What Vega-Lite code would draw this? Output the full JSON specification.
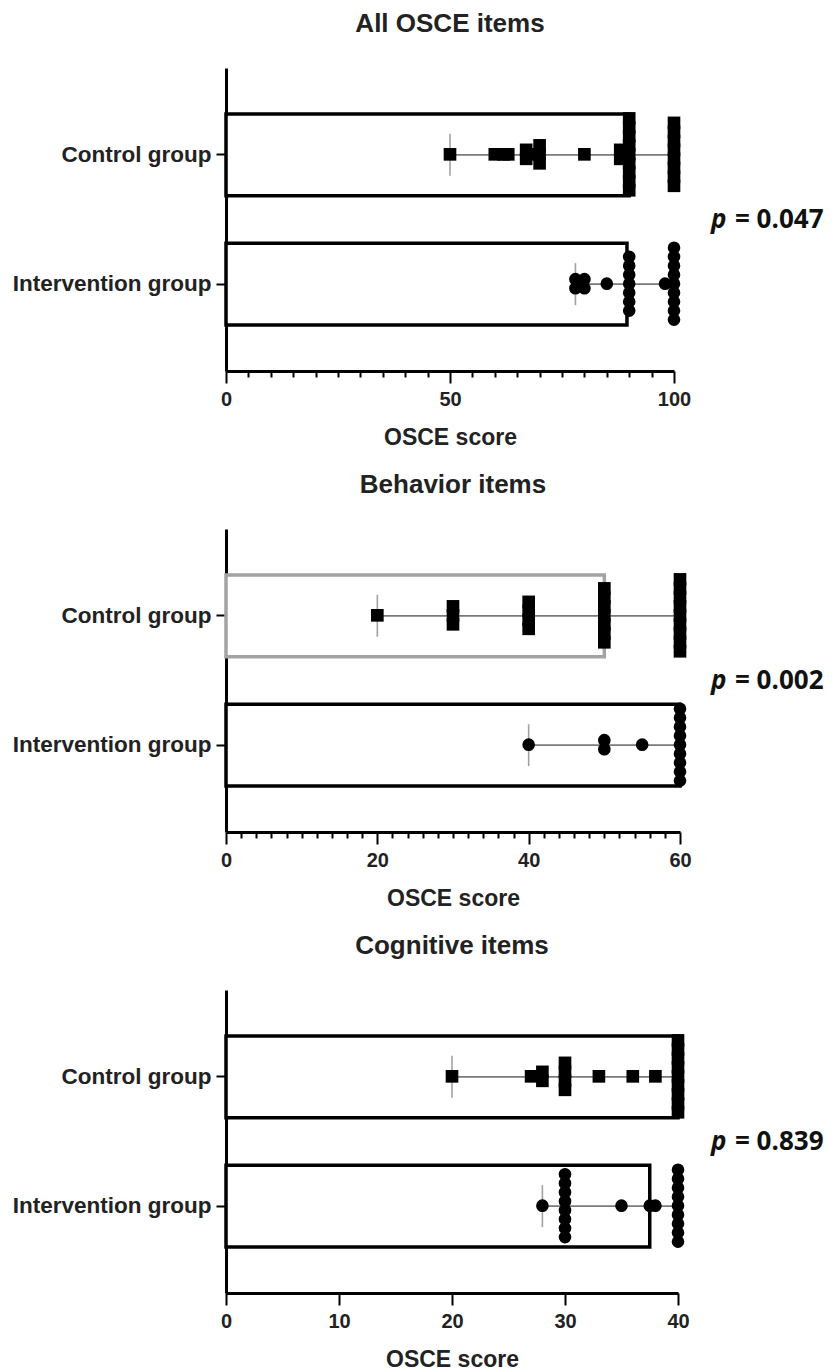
{
  "$schema": "https://vega.github.io/schema/vega-lite/v6.json",
  "padding": {"left": 12, "top": 11, "right": 5, "bottom": 5},
  "background": "white",
  "config": {
    "view": {"stroke": null},
    "font": "Liberation Sans",
    "axis": {"domainColor": "black", "domainWidth": 3, "tickColor": "black", "tickWidth": 2, "labelFont": "Liberation Sans", "labelFontWeight": "bold", "labelColor": "#222222", "titleFont": "Liberation Sans", "titleFontWeight": "bold", "titleColor": "#222222", "grid": false},
    "axisX": {"labelFontSize": 20, "titleFontSize": 23, "labelPadding": 6, "titlePadding": 17, "labelFlush": false, "labelOverlap": false, "labelBound": false, "tickSize": 12},
    "axisY": {"labelFontSize": 22.5, "tickSize": 10, "labelPadding": 5, "labelLimit": 400},
    "title": {"fontSize": 26, "fontWeight": "bold", "font": "Liberation Sans", "color": "#222222", "offset": 31, "anchor": "middle"},
    "text": {"font": "Open Sans", "fontWeight": "bold", "fontSize": 26, "color": "#111111"}
  },
  "datasets": {
    "s1": [
      {"group": "Control group", "median": 90, "min": 50, "max": 100},
      {"group": "Intervention group", "median": 89.5, "min": 78, "max": 100}
    ],
    "p1": [
      {"group": "Control group", "score": 50}, {"group": "Control group", "score": 60}, {"group": "Control group", "score": 62}, {"group": "Control group", "score": 63},
      {"group": "Control group", "score": 67}, {"group": "Control group", "score": 67}, {"group": "Control group", "score": 68},
      {"group": "Control group", "score": 70}, {"group": "Control group", "score": 70}, {"group": "Control group", "score": 70},
      {"group": "Control group", "score": 80}, {"group": "Control group", "score": 88}, {"group": "Control group", "score": 88},
      {"group": "Control group", "score": 90}, {"group": "Control group", "score": 90}, {"group": "Control group", "score": 90}, {"group": "Control group", "score": 90},
      {"group": "Control group", "score": 90}, {"group": "Control group", "score": 90}, {"group": "Control group", "score": 90}, {"group": "Control group", "score": 90},
      {"group": "Control group", "score": 90},
      {"group": "Control group", "score": 100}, {"group": "Control group", "score": 100}, {"group": "Control group", "score": 100}, {"group": "Control group", "score": 100},
      {"group": "Control group", "score": 100}, {"group": "Control group", "score": 100}, {"group": "Control group", "score": 100}, {"group": "Control group", "score": 100},
      {"group": "Intervention group", "score": 78}, {"group": "Intervention group", "score": 78}, {"group": "Intervention group", "score": 80}, {"group": "Intervention group", "score": 80},
      {"group": "Intervention group", "score": 85},
      {"group": "Intervention group", "score": 90}, {"group": "Intervention group", "score": 90}, {"group": "Intervention group", "score": 90}, {"group": "Intervention group", "score": 90},
      {"group": "Intervention group", "score": 90}, {"group": "Intervention group", "score": 90}, {"group": "Intervention group", "score": 90},
      {"group": "Intervention group", "score": 98},
      {"group": "Intervention group", "score": 100}, {"group": "Intervention group", "score": 100}, {"group": "Intervention group", "score": 100}, {"group": "Intervention group", "score": 100},
      {"group": "Intervention group", "score": 100}, {"group": "Intervention group", "score": 100}, {"group": "Intervention group", "score": 100}, {"group": "Intervention group", "score": 100},
      {"group": "Intervention group", "score": 100}
    ],
    "s2": [
      {"group": "Control group", "median": 50, "min": 20, "max": 60},
      {"group": "Intervention group", "median": 60, "min": 40, "max": 60}
    ],
    "p2": [
      {"group": "Control group", "score": 20},
      {"group": "Control group", "score": 30}, {"group": "Control group", "score": 30}, {"group": "Control group", "score": 30},
      {"group": "Control group", "score": 40}, {"group": "Control group", "score": 40}, {"group": "Control group", "score": 40}, {"group": "Control group", "score": 40},
      {"group": "Control group", "score": 50}, {"group": "Control group", "score": 50}, {"group": "Control group", "score": 50}, {"group": "Control group", "score": 50},
      {"group": "Control group", "score": 50}, {"group": "Control group", "score": 50}, {"group": "Control group", "score": 50},
      {"group": "Control group", "score": 60}, {"group": "Control group", "score": 60}, {"group": "Control group", "score": 60}, {"group": "Control group", "score": 60},
      {"group": "Control group", "score": 60}, {"group": "Control group", "score": 60}, {"group": "Control group", "score": 60}, {"group": "Control group", "score": 60},
      {"group": "Control group", "score": 60},
      {"group": "Intervention group", "score": 40},
      {"group": "Intervention group", "score": 50}, {"group": "Intervention group", "score": 50},
      {"group": "Intervention group", "score": 55},
      {"group": "Intervention group", "score": 60}, {"group": "Intervention group", "score": 60}, {"group": "Intervention group", "score": 60}, {"group": "Intervention group", "score": 60},
      {"group": "Intervention group", "score": 60}, {"group": "Intervention group", "score": 60}, {"group": "Intervention group", "score": 60}, {"group": "Intervention group", "score": 60},
      {"group": "Intervention group", "score": 60}
    ],
    "s3": [
      {"group": "Control group", "median": 40, "min": 20, "max": 40},
      {"group": "Intervention group", "median": 37.5, "min": 28, "max": 40}
    ],
    "p3": [
      {"group": "Control group", "score": 20}, {"group": "Control group", "score": 27}, {"group": "Control group", "score": 28}, {"group": "Control group", "score": 28},
      {"group": "Control group", "score": 30}, {"group": "Control group", "score": 30}, {"group": "Control group", "score": 30}, {"group": "Control group", "score": 30},
      {"group": "Control group", "score": 33}, {"group": "Control group", "score": 36}, {"group": "Control group", "score": 38},
      {"group": "Control group", "score": 40}, {"group": "Control group", "score": 40}, {"group": "Control group", "score": 40}, {"group": "Control group", "score": 40},
      {"group": "Control group", "score": 40}, {"group": "Control group", "score": 40}, {"group": "Control group", "score": 40}, {"group": "Control group", "score": 40},
      {"group": "Control group", "score": 40},
      {"group": "Intervention group", "score": 28},
      {"group": "Intervention group", "score": 30}, {"group": "Intervention group", "score": 30}, {"group": "Intervention group", "score": 30}, {"group": "Intervention group", "score": 30},
      {"group": "Intervention group", "score": 30}, {"group": "Intervention group", "score": 30}, {"group": "Intervention group", "score": 30}, {"group": "Intervention group", "score": 30},
      {"group": "Intervention group", "score": 35}, {"group": "Intervention group", "score": 37.5}, {"group": "Intervention group", "score": 38},
      {"group": "Intervention group", "score": 40}, {"group": "Intervention group", "score": 40}, {"group": "Intervention group", "score": 40}, {"group": "Intervention group", "score": 40},
      {"group": "Intervention group", "score": 40}, {"group": "Intervention group", "score": 40}, {"group": "Intervention group", "score": 40}, {"group": "Intervention group", "score": 40},
      {"group": "Intervention group", "score": 40}
    ]
  },
  "columns": 2,
  "bounds": "flush",
  "spacing": {"row": 158, "column": 18},
  "concat": [
    {
      "width": 448, "height": 303,
      "title": "All OSCE  items",
      "resolve": {"scale": {"yOffset": "independent"}, "axis": {"x": "independent"}},
      "layer": [
        {
          "data": {"name": "s1"},
          "mark": {"type": "bar", "fill": "white", "stroke": "black", "strokeWidth": 3.5},
          "encoding": {
            "y": {"field": "group", "type": "nominal", "sort": ["Control group", "Intervention group"], "scale": {"paddingInner": 0.367, "paddingOuter": 0.355}, "axis": {"title": null}},
            "x": {"field": "median", "type": "quantitative", "scale": {"domain": [0, 100], "nice": false},
                  "axis": {"title": "OSCE score", "orient": "bottom", "values": [0, 50, 100]}}
          }
        },
        {
          "data": {"name": "s1"},
          "mark": {"type": "rule", "color": "#7a7a7a", "strokeWidth": 1.6},
          "encoding": {
            "y": {"field": "group", "type": "nominal", "sort": ["Control group", "Intervention group"]},
            "x": {"field": "min", "type": "quantitative", "scale": {"domain": [0, 100], "nice": false},
                  "axis": {"orient": "bottom", "title": null, "labels": false, "domain": false, "tickSize": 6, "values": [5,10,15,20,25,30,35,40,45,55,60,65,70,75,80,85,90,95]}},
            "x2": {"field": "max"}
          }
        },
        {
          "data": {"name": "s1"},
          "mark": {"type": "tick", "color": "#7a7a7a", "thickness": 1.6, "size": 42},
          "encoding": {
            "y": {"field": "group", "type": "nominal", "sort": ["Control group", "Intervention group"]},
            "x": {"field": "min", "type": "quantitative", "scale": {"domain": [0, 100], "nice": false}, "axis": null}
          }
        },
        {
          "data": {"name": "p1"},
          "transform": [
            {"window": [{"op": "count", "as": "one"}], "frame": [0, 0]},
            {"stack": "one", "groupby": ["group", "score"], "offset": "center", "as": ["s0", "s1"]}
          ],
          "mark": {"type": "point", "filled": true, "color": "black", "opacity": 1, "size": 160},
          "encoding": {
            "y": {"field": "group", "type": "nominal", "sort": ["Control group", "Intervention group"]},
            "yOffset": {"field": "s0", "type": "quantitative", "scale": {"domain": [-0.5, 8.61], "nice": false, "zero": false}},
            "x": {"field": "score", "type": "quantitative", "scale": {"domain": [0, 100], "nice": false}, "axis": null},
            "shape": {"field": "group", "type": "nominal", "scale": {"domain": ["Control group", "Intervention group"], "range": ["square", "circle"]}, "legend": null}
          }
        }
      ]
    },
    {
      "width": 120, "height": 303,
      "data": {"values": [{"p": "= 0.047"}]},
      "layer": [
        {"mark": {"type": "text", "text": "p", "fontStyle": "italic", "align": "left", "baseline": "middle", "dx": -47}, "encoding": {}},
        {"mark": {"type": "text", "align": "left", "baseline": "middle", "dx": -23}, "encoding": {"text": {"field": "p", "type": "nominal"}}}
      ]
    },
    {
      "width": 454, "height": 303,
      "title": "Behavior items",
      "resolve": {"scale": {"yOffset": "independent"}, "axis": {"x": "independent"}},
      "layer": [
        {
          "data": {"name": "s2"},
          "mark": {"type": "bar", "fill": "white", "strokeWidth": 3.5},
          "encoding": {
            "y": {"field": "group", "type": "nominal", "sort": ["Control group", "Intervention group"], "scale": {"paddingInner": 0.367, "paddingOuter": 0.355}, "axis": {"title": null}},
            "x": {"field": "median", "type": "quantitative", "scale": {"domain": [0, 60], "nice": false},
                  "axis": {"title": "OSCE score", "orient": "bottom", "values": [0, 20, 40, 60]}},
            "stroke": {"condition": {"test": "datum.group === 'Control group'", "value": "#a3a3a3"}, "value": "black"}
          }
        },
        {
          "data": {"name": "s2"},
          "mark": {"type": "rule", "color": "#7a7a7a", "strokeWidth": 1.6},
          "encoding": {
            "y": {"field": "group", "type": "nominal", "sort": ["Control group", "Intervention group"]},
            "x": {"field": "min", "type": "quantitative", "scale": {"domain": [0, 60], "nice": false},
                  "axis": {"orient": "bottom", "title": null, "labels": false, "domain": false, "tickSize": 6, "values": [2,4,6,8,10,12,14,16,18,22,24,26,28,30,32,34,36,38,42,44,46,48,50,52,54,56,58]}},
            "x2": {"field": "max"}
          }
        },
        {
          "data": {"name": "s2"},
          "mark": {"type": "tick", "color": "#7a7a7a", "thickness": 1.6, "size": 42},
          "encoding": {
            "y": {"field": "group", "type": "nominal", "sort": ["Control group", "Intervention group"]},
            "x": {"field": "min", "type": "quantitative", "scale": {"domain": [0, 60], "nice": false}, "axis": null}
          }
        },
        {
          "data": {"name": "p2"},
          "transform": [
            {"window": [{"op": "count", "as": "one"}], "frame": [0, 0]},
            {"stack": "one", "groupby": ["group", "score"], "offset": "center", "as": ["s0", "s1"]}
          ],
          "mark": {"type": "point", "filled": true, "color": "black", "opacity": 1, "size": 160},
          "encoding": {
            "y": {"field": "group", "type": "nominal", "sort": ["Control group", "Intervention group"]},
            "yOffset": {"field": "s0", "type": "quantitative", "scale": {"domain": [-0.5, 8.61], "nice": false, "zero": false}},
            "x": {"field": "score", "type": "quantitative", "scale": {"domain": [0, 60], "nice": false}, "axis": null},
            "shape": {"field": "group", "type": "nominal", "scale": {"domain": ["Control group", "Intervention group"], "range": ["square", "circle"]}, "legend": null}
          }
        }
      ]
    },
    {
      "width": 120, "height": 303,
      "data": {"values": [{"p": "= 0.002"}]},
      "layer": [
        {"mark": {"type": "text", "text": "p", "fontStyle": "italic", "align": "left", "baseline": "middle", "dx": -47}, "encoding": {}},
        {"mark": {"type": "text", "align": "left", "baseline": "middle", "dx": -23}, "encoding": {"text": {"field": "p", "type": "nominal"}}}
      ]
    },
    {
      "width": 452, "height": 303,
      "title": "Cognitive items",
      "resolve": {"scale": {"yOffset": "independent"}},
      "layer": [
        {
          "data": {"name": "s3"},
          "mark": {"type": "bar", "fill": "white", "stroke": "black", "strokeWidth": 3.5},
          "encoding": {
            "y": {"field": "group", "type": "nominal", "sort": ["Control group", "Intervention group"], "scale": {"paddingInner": 0.367, "paddingOuter": 0.355}, "axis": {"title": null}},
            "x": {"field": "median", "type": "quantitative", "scale": {"domain": [0, 40], "nice": false},
                  "axis": {"title": "OSCE score", "values": [0, 10, 20, 30, 40]}}
          }
        },
        {
          "data": {"name": "s3"},
          "mark": {"type": "rule", "color": "#7a7a7a", "strokeWidth": 1.6},
          "encoding": {
            "y": {"field": "group", "type": "nominal", "sort": ["Control group", "Intervention group"]},
            "x": {"field": "min", "type": "quantitative", "scale": {"domain": [0, 40], "nice": false}},
            "x2": {"field": "max"}
          }
        },
        {
          "data": {"name": "s3"},
          "mark": {"type": "tick", "color": "#7a7a7a", "thickness": 1.6, "size": 42},
          "encoding": {
            "y": {"field": "group", "type": "nominal", "sort": ["Control group", "Intervention group"]},
            "x": {"field": "min", "type": "quantitative", "scale": {"domain": [0, 40], "nice": false}}
          }
        },
        {
          "data": {"name": "p3"},
          "transform": [
            {"window": [{"op": "count", "as": "one"}], "frame": [0, 0]},
            {"stack": "one", "groupby": ["group", "score"], "offset": "center", "as": ["s0", "s1"]}
          ],
          "mark": {"type": "point", "filled": true, "color": "black", "opacity": 1, "size": 160},
          "encoding": {
            "y": {"field": "group", "type": "nominal", "sort": ["Control group", "Intervention group"]},
            "yOffset": {"field": "s0", "type": "quantitative", "scale": {"domain": [-0.5, 8.61], "nice": false, "zero": false}},
            "x": {"field": "score", "type": "quantitative", "scale": {"domain": [0, 40], "nice": false}},
            "shape": {"field": "group", "type": "nominal", "scale": {"domain": ["Control group", "Intervention group"], "range": ["square", "circle"]}, "legend": null}
          }
        }
      ]
    },
    {
      "width": 120, "height": 303,
      "data": {"values": [{"p": "= 0.839"}]},
      "layer": [
        {"mark": {"type": "text", "text": "p", "fontStyle": "italic", "align": "left", "baseline": "middle", "dx": -47}, "encoding": {}},
        {"mark": {"type": "text", "align": "left", "baseline": "middle", "dx": -23}, "encoding": {"text": {"field": "p", "type": "nominal"}}}
      ]
    }
  ]
}
